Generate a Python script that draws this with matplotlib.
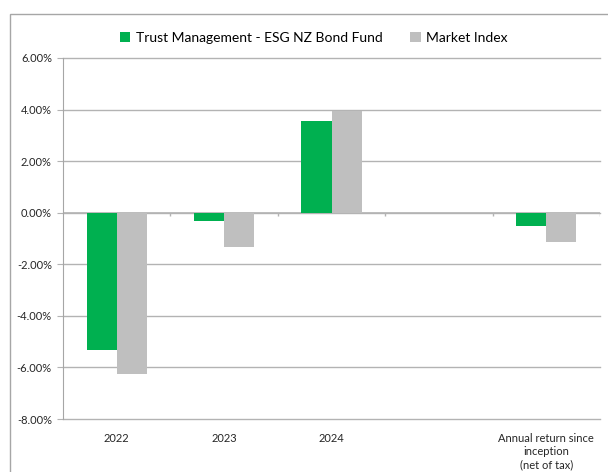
import numpy as np
import matplotlib.pyplot as plt
from matplotlib.patches import Rectangle
from matplotlib.ticker import FuncFormatter

plt.rcParams['font.family'] = ['Lato', 'DejaVu Sans']

# Datos (rendimiento anual, %)
categorias = ["2022", "2023", "2024", "", "Annual return since\ninception\n(net of tax)"]
fondo = [-5.33, -0.33, 3.56, np.nan, -0.52]
indice = [-6.27, -1.34, 3.93, np.nan, -1.14]
nombre_fondo = "Trust Management - ESG NZ Bond Fund"
nombre_indice = "Market Index"

VERDE = "#00B050"
GRIS = "#BFBFBF"
LINEA = "#B3B3B3"

fig = plt.figure(figsize=(6.08, 4.72), dpi=100)
ax = fig.add_axes([63 / 608, 1 - 419 / 472, 537 / 608, 361 / 472])

# Marco exterior (recortado a la derecha y abajo, como en la imagen)
fig.patches.append(Rectangle((9.5 / 608, -0.05), 1.2, 1.05 - 14 / 472,
                             transform=fig.transFigure, fill=False,
                             edgecolor="#A6A6A6", lw=1.0, clip_on=False))

x = np.arange(len(categorias))
ancho = 0.28
ax.bar(x - ancho / 2, fondo, ancho, color=VERDE, label=nombre_fondo, zorder=3)
ax.bar(x + ancho / 2, indice, ancho, color=GRIS, label=nombre_indice, zorder=3)

ax.set_xlim(-0.5, len(categorias) - 0.5)
ax.set_ylim(-8, 6)
ax.set_yticks(np.arange(-8, 7, 2))
ax.yaxis.set_major_formatter(FuncFormatter(lambda v, p: f"{v:.2f}%"))
ax.grid(axis="y", color=LINEA, lw=1.0, zorder=0)
ax.set_axisbelow(True)
for g in ax.get_ygridlines():
    g.set_clip_on(False)

# Eje horizontal en cero con marcas entre categorías
ax.axhline(0, color=LINEA, lw=1.2, zorder=2)
limites = np.arange(len(categorias) + 1) - 0.5
ax.vlines(limites[1:], -0.13, 0, color=LINEA, lw=1.0, zorder=2)

ax.set_xticks(x)
ax.set_xticklabels(categorias, fontsize=8, color="#262626", va="top", linespacing=1.22)
ax.tick_params(axis="x", length=0, pad=10)
ax.tick_params(axis="y", length=4, color=LINEA, labelsize=8, labelcolor="#262626", pad=4)

for lado in ["top", "right", "bottom"]:
    ax.spines[lado].set_visible(False)
ax.spines["left"].set_color("#A6A6A6")

fig.legend(loc="center", bbox_to_anchor=(0.516, 1 - 37.5 / 472), ncol=2, frameon=False,
           fontsize=10, handlelength=0.75, handleheight=0.75, handletextpad=0.4,
           columnspacing=2.0)

fig.savefig("out.png", dpi=100)
